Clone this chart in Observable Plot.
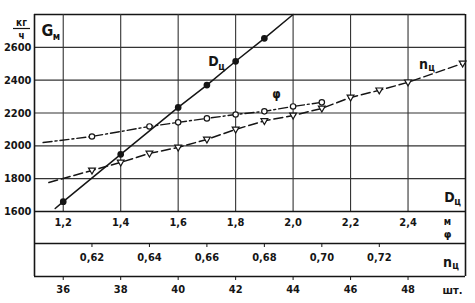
<!DOCTYPE html>
<html><head><meta charset="utf-8">
<script src="https://cdn.jsdelivr.net/npm/d3@7"></script>
<script src="https://cdn.jsdelivr.net/npm/@observablehq/plot@0.6"></script>
<style>body{margin:0;background:#fff} svg{display:block}</style>
</head><body><div id="chart"></div>
<script>
// tick values
const gTicks = [1600, 1800, 2000, 2200, 2400, 2600];
const dTicks = [1.2, 1.4, 1.6, 1.8, 2.0, 2.2, 2.4];
const phiTicks = [0.62, 0.64, 0.66, 0.68, 0.70, 0.72];
const nTicks = [36, 38, 40, 42, 44, 46, 48];

// D_ц curve (diameter, m) vs G_м (kg/h)
const dLineD = [1.172, 1.2, 1.4, 1.6, 1.7, 1.8, 1.9, 2.0];
const dLineG = [1618, 1660, 1948, 2234, 2370, 2515, 2655, 2800];
const dMarkD = [1.2, 1.4, 1.6, 1.7, 1.8, 1.9];
const dMarkG = [1660, 1948, 2234, 2370, 2515, 2655];

// φ curve
const phiLine = [0.603, 0.62, 0.64, 0.65, 0.66, 0.67, 0.68, 0.69, 0.70];
const phiLineG = [2020, 2057, 2118, 2143, 2167, 2191, 2210, 2240, 2265];
const phiMark = [0.62, 0.64, 0.65, 0.66, 0.67, 0.68, 0.69, 0.70];
const phiMarkG = [2057, 2118, 2143, 2167, 2191, 2210, 2240, 2265];

// n_ц curve (pieces)
const nLine = [35.5, 37, 38, 39, 40, 41, 42, 43, 44, 45, 46, 47, 48, 49.9];
const nLineG = [1777, 1850, 1899, 1954, 1990, 2039, 2100, 2152, 2185, 2228, 2295, 2338, 2387, 2502];
const nMark = [37, 38, 39, 40, 41, 42, 43, 44, 45, 46, 47, 48, 49.9];
const nMarkG = [1850, 1899, 1954, 1990, 2039, 2100, 2152, 2185, 2228, 2295, 2338, 2387, 2502];

// the three horizontal scales share one pixel axis
const phiToD = p => 1.1 + (p - 0.6) * 10;
const nToD = n => 1.2 + (n - 36) / 10;
const comma = v => v.toFixed(v < 1 ? 2 : 1).replace(".", ",");

const dData = d3.zip(dLineD, dLineG).map(([x, y]) => ({x, y}));
const dDots = d3.zip(dMarkD, dMarkG).map(([x, y]) => ({x, y}));
const pData = d3.zip(phiLine, phiLineG).map(([p, y]) => ({x: phiToD(p), y}));
const pDots = d3.zip(phiMark, phiMarkG).map(([p, y]) => ({x: phiToD(p), y}));
const nData = d3.zip(nLine, nLineG).map(([n, y]) => ({x: nToD(n), y}));
const nDots = d3.zip(nMark, nMarkG).map(([n, y]) => ({x: nToD(n), y}));

const triDown = {
  draw(ctx, size) {
    const r = Math.sqrt(size / Math.PI);
    ctx.moveTo(0, r * 1.15);
    ctx.lineTo(-r * 1.1, -r * 0.75);
    ctx.lineTo(r * 1.1, -r * 0.75);
    ctx.closePath();
  }
};

const ink = "#151515";
const grid = "#333";
const lab = (text, dx, dy, size) =>
  Plot.text([text], {frameAnchor: "top-left", dx, dy, text: d => d, fontSize: size, fill: ink,
    textAnchor: "middle", lineAnchor: "middle"});

const chart = Plot.plot({
  width: 475, height: 303,
  marginLeft: 34, marginRight: 10, marginTop: 14, marginBottom: 92,
  style: {fontFamily: "'DejaVu Sans Condensed', 'DejaVu Sans', sans-serif", fontSize: "11px", fontWeight: "bold", color: ink, background: "#fff"},
  x: {domain: [1.1, 2.6], ticks: dTicks, tickSize: 0, tickPadding: 7, tickFormat: comma, label: null},
  y: {domain: [1600, 2800], ticks: gTicks, tickSize: 0, tickPadding: 3, tickFormat: d => String(d), label: null},
  marks: [
    Plot.ruleY(gTicks, {stroke: grid, strokeWidth: 1.1}),
    Plot.ruleY([2800], {stroke: ink, strokeWidth: 1.6}),
    Plot.ruleX(dTicks, {stroke: grid, strokeWidth: 1.1}),
    Plot.ruleX([1.1, 2.6], {stroke: ink, strokeWidth: 1.6, insetBottom: -65}),
    Plot.ruleY([1600], {stroke: ink, strokeWidth: 1.4}),
    Plot.ruleY([1600], {stroke: ink, strokeWidth: 1.4, dy: 32}),
    Plot.ruleY([1600], {stroke: ink, strokeWidth: 1.4, dy: 65}),
    // φ axis
    Plot.ruleX(phiTicks, {x: phiToD, y1: 1600, y2: 1600, insetBottom: -4, dy: 32, stroke: ink}),
    Plot.text(phiTicks, {x: phiToD, frameAnchor: "bottom", dy: 46, text: comma, fill: ink, lineAnchor: "middle"}),
    // n axis
    Plot.ruleX(nTicks, {x: nToD, y1: 1600, y2: 1600, insetBottom: -4, dy: 65, stroke: ink}),
    Plot.text(nTicks, {x: nToD, frameAnchor: "bottom", dy: 78, text: d => String(d), fill: ink, lineAnchor: "middle"}),
    // curves
    Plot.line(dData, {x: "x", y: "y", stroke: ink, strokeWidth: 1.5}),
    Plot.line(pData, {x: "x", y: "y", stroke: ink, strokeWidth: 1.4, strokeDasharray: "9,3,2,3"}),
    Plot.line(nData, {x: "x", y: "y", stroke: ink, strokeWidth: 1.5, strokeDasharray: "9,4"}),
    Plot.dot(dDots, {x: "x", y: "y", r: 2.6, fill: ink, stroke: ink}),
    Plot.dot(pDots, {x: "x", y: "y", r: 2.7, fill: "#fff", stroke: ink, strokeWidth: 1.2}),
    Plot.dot(nDots, {x: "x", y: "y", r: 3.1, symbol: triDown, fill: "#fff", stroke: ink, strokeWidth: 1.2}),
    // labels
    lab("кг", -13, 8, 10),
    lab("ч", -13, 21, 10),
    lab("G", 13, 16, 16),
    lab("м", 22, 22, 10),
    lab("D", 179, 47, 14),
    lab("ц", 187, 52, 10),
    lab("φ", 242, 80, 12),
    lab("n", 389, 50, 14),
    lab("ц", 397, 53, 10),
    lab("D", 415, 183, 14),
    lab("ц", 423, 187, 10),
    lab("м", 413, 207, 10),
    lab("φ", 413, 220, 11),
    lab("n", 413, 248, 14),
    lab("ц", 421, 251, 10),
    lab("шт.", 418, 276, 11)
  ]
});
const svg = d3.select(chart);
svg.append("line").attr("x1", 13).attr("x2", 30).attr("y1", 28.5).attr("y2", 28.5)
  .attr("stroke", ink).attr("stroke-width", 1.2);
document.getElementById("chart").appendChild(chart);
</script>
</body></html>
